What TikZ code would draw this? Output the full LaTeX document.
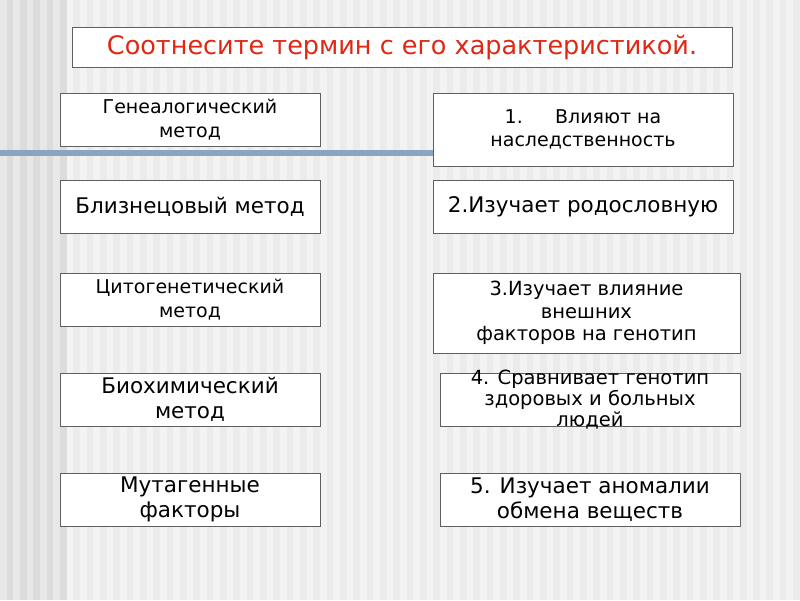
\documentclass[tikz,border=0pt]{standalone}
\usepackage{fontspec}
\setmainfont{DejaVu Sans}
\usepackage{xcolor}
\usetikzlibrary{positioning}
\definecolor{paper}{RGB}{243,243,243}
\definecolor{paperstripe}{RGB}{235,235,235}
\definecolor{edgegray}{RGB}{232,232,232}
\definecolor{edgestripe}{RGB}{220,220,220}
\definecolor{barblue}{RGB}{138,164,194}
\definecolor{framegray}{RGB}{95,95,95}
\definecolor{titlered}{RGB}{222,40,20}

\begin{document}
\begin{tikzpicture}[x=1pt, y=-1pt,
box/.style={draw=framegray, line width=0.9pt, fill=white, align=center, inner sep=1pt, font=\fontsize{19}{23.5}\selectfont},
bigbox/.style={box, font=\fontsize{21.5}{25}\selectfont},
term/.style={box, minimum width=260pt, minimum height=53pt},
bigterm/.style={bigbox, minimum width=260pt, minimum height=53pt}
]
% background
\fill[paper] (0,0) rectangle (800,600);
\fill[edgegray] (0,0) rectangle (60,600);
\foreach \x in {0,1,...,59} {
  \pgfmathsetmacro{\xs}{6.67+13.33*\x}
  \ifdim\xs pt<60pt
    \fill[edgestripe] (\xs,0) rectangle ++(6.67,600);
  \else
    \fill[paperstripe] (\xs,0) rectangle ++(6.67,600);
  \fi
}
\fill[barblue] (0,150) rectangle (440,156);

% title
\node[box, minimum width=660pt, minimum height=40pt, text=titlered, font=\fontsize{25.5}{30}\selectfont] (title) at (402,47) {Соотнесите термин с его характеристикой.};

% terms
\node[term] (gen) at (190,119.5) {Генеалогический\\метод};
\node[bigterm] (twin) at (190,206.5) {Близнецовый метод};
\node[term] (cyto) at (190,299.5) {Цитогенетический\\метод};
\node[bigterm] (bio) at (190,399.5) {Биохимический\\метод};
\node[bigterm] (mut) at (190,499.5) {Мутагенные\\факторы};

% characteristics
\node[box, minimum width=300pt, minimum height=73pt] (c1) at (583,129.5) {1.\hspace{1.7em}Влияют на\\наследственность};
\node[bigbox, minimum width=300pt, minimum height=53pt] (c2) at (583,206.5) {2.Изучает родословную};
\node[box, font=\fontsize{19.5}{22.5}\selectfont, minimum width=307pt, minimum height=80pt] (c3) at (586.5,313) {3.Изучает влияние\\внешних\\факторов на генотип};
\node[box, minimum width=300pt, minimum height=53pt] (c4) at (590,399.5) {};
\node[align=center, inner sep=0pt, font=\fontsize{19.5}{21}\selectfont] (c4text) at (c4.center) {4. Сравнивает генотип\\здоровых и больных\\людей};
\node[bigbox, minimum width=300pt, minimum height=53pt] (c5) at (590,499.5) {5. Изучает аномалии\\обмена веществ};
\end{tikzpicture}
\end{document}
